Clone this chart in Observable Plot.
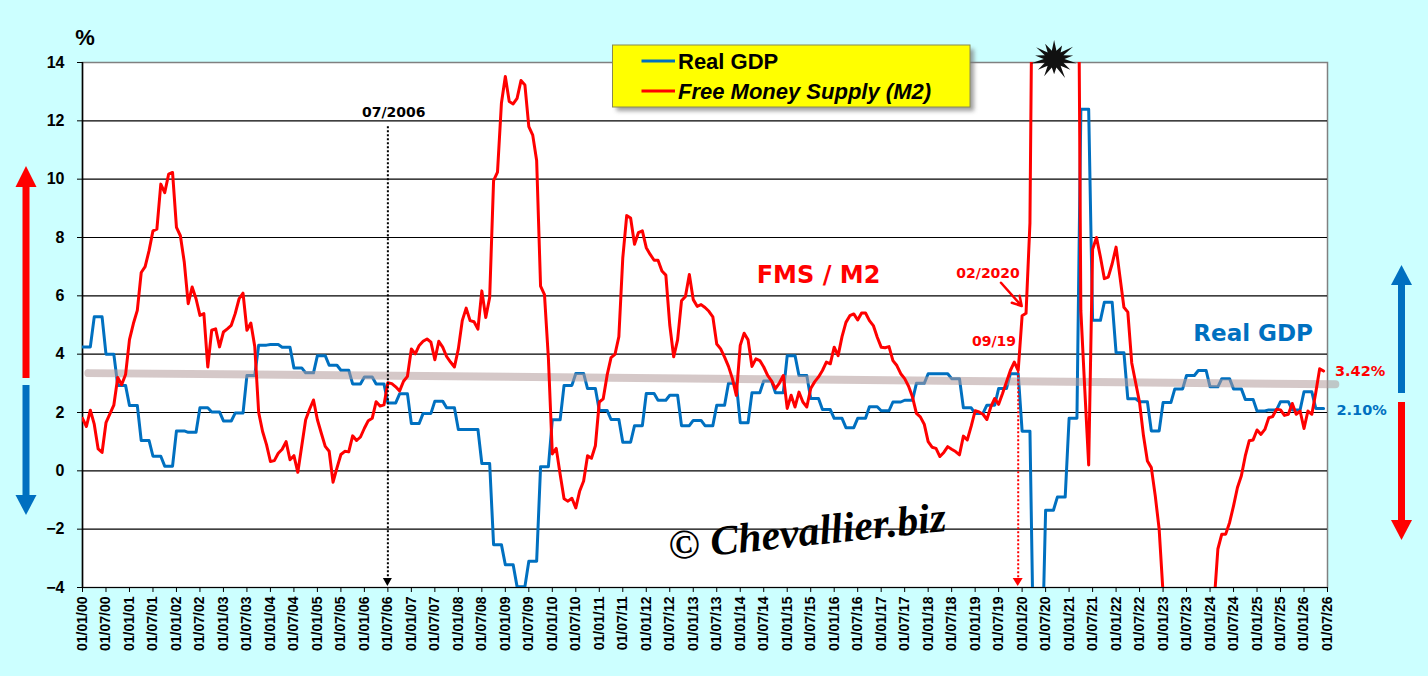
<!DOCTYPE html>
<html><head><meta charset="utf-8">
<script src="https://cdn.jsdelivr.net/npm/d3@7"></script>
<script src="https://cdn.jsdelivr.net/npm/@observablehq/plot@0.6"></script>
<style>
html,body{margin:0;padding:0;background:#ccffff;overflow:hidden;}
svg{display:block}
</style></head><body>
<div id="chart"></div>
<script>
// Free Money Supply (M2), monthly y/y %, Jan 2000 .. Jun 2026 (one row per year)
const fmsValues = [
  1.8, 1.52, 2.08, 1.6, 0.75, 0.63, 1.65, 1.95, 2.25, 3.2, 2.95, 3.3,
  4.5, 5.05, 5.5, 6.8, 7.0, 7.55, 8.23, 8.29, 9.83, 9.54, 10.17, 10.23,
  8.35, 8.06, 7.15, 5.73, 6.3, 5.9, 5.33, 5.39, 3.56, 4.82, 4.87, 4.25,
  4.76, 4.87, 4.99, 5.39, 5.9, 6.09, 4.82, 5.07, 4.26, 2.0, 1.35, 0.9,
  0.32, 0.35, 0.6, 0.74, 1.0, 0.38, 0.52, -0.05, 0.85, 1.75, 2.11, 2.43,
  1.75, 1.29, 0.84, 0.67, -0.39, 0.1, 0.56, 0.67, 0.65, 1.2, 1.04, 1.16,
  1.46, 1.72, 1.8, 2.37, 2.22, 2.26, 3.02, 2.99, 2.88, 2.74, 3.07, 3.24,
  4.18, 4.01, 4.3, 4.44, 4.52, 4.41, 3.81, 4.44, 4.24, 3.92, 3.73, 3.56,
  4.18, 5.15, 5.58, 5.15, 5.11, 4.86, 6.17, 5.26, 5.94, 9.95, 10.24, 12.6,
  13.52, 12.66, 12.58, 12.77, 13.38, 13.23, 11.8, 11.51, 10.64, 6.33, 6.04, 3.86,
  0.58, 0.77, -0.12, -0.96, -1.04, -0.94, -1.27, -0.69, -0.35, 0.52, 0.43, 0.86,
  2.36, 2.47, 3.28, 3.88, 3.99, 4.6, 7.3, 8.75, 8.67, 7.77, 8.17, 8.23,
  7.65, 7.42, 7.22, 7.22, 6.85, 6.71, 5.0, 3.91, 4.49, 5.83, 5.98, 6.73,
  5.87, 5.64, 5.7, 5.6, 5.47, 5.28, 4.35, 4.18, 3.9, 3.58, 3.16, 2.59,
  4.3, 4.72, 4.49, 3.58, 3.84, 3.78, 3.56, 3.27, 3.08, 2.82, 3.01, 3.27,
  2.14, 2.59, 2.19, 2.7, 2.36, 2.19, 2.82, 3.05, 3.22, 3.44, 3.73, 3.67,
  4.24, 3.95, 4.6, 5.09, 5.32, 5.38, 5.17, 5.41, 5.41, 5.15, 4.98, 4.58,
  4.24, 4.22, 4.26, 3.78, 3.61, 3.33, 3.16, 2.9, 2.53, 1.97, 1.85, 1.6,
  1.0, 0.81, 0.77, 0.49, 0.63, 0.83, 0.74, 0.66, 0.55, 1.19, 1.06, 1.53,
  2.06, 2.02, 1.94, 1.76, 2.19, 2.48, 2.28, 2.65, 3.05, 3.44, 3.73, 3.44,
  5.32, 5.4, 8.5, 24, 25, 25.5, 24.5, 24, 24.5, 25, 25.5, 26,
  26.5, 27, 26, 5.5, 2.8, 0.2, 7.6, 8.0, 7.33, 6.59, 6.64, 7.1,
  7.67, 6.64, 5.61, 5.44, 3.7, 3.02, 2.34, 1.2, 0.34, 0.11, -0.85, -2.0,
  -4.2, -5.5, -6.5, -7.5, -8.2, -8.8, -9.2, -9.3, -9.0, -8.5, -7.5, -6.5,
  -5.5, -4.6, -2.68, -2.17, -2.17, -1.77, -1.2, -0.57, -0.17, 0.51, 1.03, 1.06,
  1.4, 1.25, 1.42, 1.82, 1.86, 2.11, 2.09, 1.9, 1.94, 2.31, 1.94, 2.05,
  1.45, 2.05, 1.94, 2.68, 3.5, 3.42
];
// Real GDP, quarterly y/y %, Q1 2000 .. Q2 2026 (one row per year)
const gdpQuarterly = [
  4.25, 5.28, 4.0, 2.93,
  2.24, 1.04, 0.5, 0.16,
  1.37, 1.32, 2.16, 2.02,
  1.71, 1.98, 3.27, 4.31,
  4.33, 4.24, 3.53, 3.36,
  3.95, 3.62, 3.45, 2.98,
  3.22, 2.98, 2.33, 2.64,
  1.62, 1.97, 2.39, 2.16,
  1.42, 1.42, 0.25, -2.53,
  -3.22, -3.97, -3.1, 0.14,
  1.75, 2.93, 3.34, 2.82,
  2.07, 1.76, 0.98, 1.55,
  2.65, 2.42, 2.59, 1.55,
  1.73, 1.55, 2.25, 3.0,
  1.65, 2.68, 3.08, 2.68,
  3.95, 3.27, 2.48, 2.1,
  1.8, 1.48, 1.8, 2.2,
  2.06, 2.36, 2.42, 3.0,
  3.33, 3.33, 3.16, 2.16,
  1.97, 2.25, 2.82, 3.33,
  1.36, -7.0, -1.35, -0.9,
  1.8, 12.4, 5.16, 5.78,
  4.05, 2.47, 2.37, 1.37,
  2.34, 2.81, 3.27, 3.44,
  2.88, 3.16, 2.81, 2.45,
  2.05, 2.09, 2.37, 2.09,
  2.71, 2.14
];
const trendMonths = [1.5, 320];
const trendValues = [3.35, 2.97];
const yTicks = [-4, -2, 0, 2, 4, 6, 8, 10, 12, 14];
const xTickMonths = d3.range(0, 319, 6);
const xTickLabels = ["01/01/00","01/07/00","01/01/01","01/07/01","01/01/02","01/07/02","01/01/03","01/07/03","01/01/04","01/07/04","01/01/05","01/07/05","01/01/06","01/07/06","01/01/07","01/07/07","01/01/08","01/07/08","01/01/09","01/07/09","01/01/10","01/07/10","01/01/11","01/07/11","01/01/12","01/07/12","01/01/13","01/07/13","01/01/14","01/07/14","01/01/15","01/07/15","01/01/16","01/07/16","01/01/17","01/07/17","01/01/18","01/07/18","01/01/19","01/07/19","01/01/20","01/07/20","01/01/21","01/07/21","01/01/22","01/07/22","01/01/23","01/07/23","01/01/24","01/07/24","01/01/25","01/07/25","01/01/26","01/07/26"];
const lastFms = "3.42%";
const lastGdp = "2.10%";

const RED = "#ff0000", BLUE = "#0070c0";
const fms = fmsValues.map((v, i) => ({m: i, v}));
const gdp = gdpQuarterly.flatMap((v, q) => [0, 1, 2].map(k => ({m: 3 * q + k, v})));
const trend = trendMonths.map((m, i) => ({m, v: trendValues[i]}));

const ANNO = {fontFamily: "DejaVu Sans", fontWeight: "bold"};

const plot = Plot.plot({
  width: 1428, height: 676,
  marginLeft: 82, marginRight: 101, marginTop: 62, marginBottom: 89,
  style: {background: "#ccffff", color: "black"},
  x: {domain: [0, 318]},
  y: {domain: [-4, 14]},
  marks: [
    Plot.frame({fill: "white", stroke: "#808080", strokeWidth: 1.5}),
    Plot.ruleY(yTicks.filter(d => d < 14), {stroke: "black", strokeWidth: 1.2}),
    Plot.ruleX([0], {stroke: "black", strokeWidth: 1.5}),
    Plot.axisY({ticks: yTicks, tickSize: 5, tickPadding: 13, label: null,
      fontSize: 16, fontWeight: "bold", fontFamily: "Liberation Sans"}),
    Plot.axisX({ticks: xTickMonths, tickFormat: d => xTickLabels[xTickMonths.indexOf(d)],
      tickRotate: -90, tickSize: 5, tickPadding: 4, label: null,
      fontSize: 14, fontWeight: "bold", fontFamily: "Liberation Sans"}),
    Plot.line(gdp, {x: "m", y: "v", stroke: BLUE, strokeWidth: 3, clip: true}),
    Plot.line(trend, {x: "m", y: "v", stroke: "#b39a9a", strokeOpacity: 0.55, strokeWidth: 8}),
    Plot.line(fms, {x: "m", y: "v", stroke: RED, strokeWidth: 3, clip: true}),
    Plot.ruleX([78], {y1: 11.8, y2: -3.75, stroke: "black", strokeWidth: 2, strokeDasharray: "2,2"}),
    Plot.ruleX([239], {y1: 3.4, y2: -3.75, stroke: RED, strokeWidth: 2, strokeDasharray: "2,2"}),
    Plot.arrow([{x1: 234.6, y1: 6.45, x2: 239.9, y2: 5.65}], {x1: "x1", y1: "y1", x2: "x2", y2: "y2",
      stroke: RED, strokeWidth: 2.5, headLength: 9}),
    Plot.text(["07/2006"], {text: d => d, x: 79.5, y: 12.3, fill: "black", fontSize: 14, ...ANNO}),
    Plot.text(["02/2020"], {text: d => d, x: 231.3, y: 6.78, fill: RED, fontSize: 14, ...ANNO}),
    Plot.text(["09/19"], {text: d => d, x: 232.8, y: 4.45, fill: RED, fontSize: 14, ...ANNO}),
    Plot.text(["FMS / M2"], {text: d => d, x: 188, y: 6.7, fill: RED, fontSize: 24, ...ANNO}),
    Plot.text(["Real GDP"], {text: d => d, x: 299, y: 4.72, fill: BLUE, fontSize: 23, ...ANNO}),
    Plot.text([lastFms], {text: d => d, x: 319.9, y: 3.4, fill: RED, fontSize: 14.5, textAnchor: "start", ...ANNO}),
    Plot.text([lastGdp], {text: d => d, x: 320.3, y: 2.08, fill: BLUE, fontSize: 14.5, textAnchor: "start", ...ANNO})
  ]
});
document.getElementById("chart").appendChild(plot);

const svg = d3.select(plot);
const sx = plot.scale("x"), sy = plot.scale("y");
const X = v => sx.apply(v), Y = v => sy.apply(v);

// arrowheads at bottom of dotted lines
function headDown(m, color, w) {
  const x = X(m), y = Y(-4);
  svg.append("path").attr("d", `M${x - w},${y - 9}L${x + w},${y - 9}L${x},${y - 1}Z`).attr("fill", color);
}
headDown(78, "black", 4.5);
headDown(239, RED, 5);

// explosion star at the clipped FMS peak
{
  const cx = X(248.3), cy = Y(14.1);
  const outer = [1, 0.8, 1.05, 0.85, 1, 0.9, 1.1, 0.8, 1, 0.9, 1.05, 0.85, 1, 0.9];
  const n = outer.length;
  const pts = [];
  for (let i = 0; i < 2 * n; i++) {
    const a = Math.PI * i / n - Math.PI / 2;
    const r = i % 2 === 0 ? outer[i / 2] : 0.45;
    pts.push([cx + Math.cos(a) * r * 23, cy + Math.sin(a) * r * 19]);
  }
  svg.append("path").attr("d", "M" + pts.map(p => p.join(",")).join("L") + "Z").attr("fill", "#111");
}

// side arrows
function arrow(x, yShaftStart, yBase, yTip, color) {
  const sw = 3.5, hw = 10.5;
  svg.append("rect").attr("x", x - sw).attr("width", 2 * sw)
    .attr("y", Math.min(yShaftStart, yBase)).attr("height", Math.abs(yShaftStart - yBase) + 1)
    .attr("fill", color);
  svg.append("path").attr("d", `M${x - hw},${yBase}L${x + hw},${yBase}L${x},${yTip}Z`).attr("fill", color);
}
arrow(26, 377, 187, 166, RED);
arrow(26, 385, 495, 515, BLUE);
arrow(1401.5, 392, 285, 265, BLUE);
arrow(1401.5, 402, 520, 540, RED);

// percent unit
svg.append("text").attr("x", 85).attr("y", 45).attr("text-anchor", "middle")
  .attr("font-family", "Liberation Sans").attr("font-weight", "bold").attr("font-size", 22).text("%");

// legend
{
  const lx = 612.5, ly = 45, lw = 357.5, lh = 62;
  const defs = svg.append("defs");
  defs.append("filter").attr("id", "shadow").attr("x", "-10%").attr("y", "-10%").attr("width", "130%").attr("height", "150%")
    .append("feGaussianBlur").attr("stdDeviation", 2);
  svg.append("rect").attr("x", lx + 4).attr("y", ly + 4).attr("width", lw).attr("height", lh)
    .attr("fill", "#777").attr("opacity", 0.7).attr("filter", "url(#shadow)");
  svg.append("rect").attr("x", lx).attr("y", ly).attr("width", lw).attr("height", lh)
    .attr("fill", "#ffff00").attr("stroke", "#8a8a50").attr("stroke-width", 1);
  const items = [{label: "Real GDP", color: BLUE, y: 61, style: "normal"},
                 {label: "Free Money Supply (M2)", color: RED, y: 91, style: "italic"}];
  for (const it of items) {
    svg.append("line").attr("x1", 641.5).attr("x2", 675).attr("y1", it.y).attr("y2", it.y)
      .attr("stroke", it.color).attr("stroke-width", 3);
    svg.append("text").attr("x", 678).attr("y", it.y + 7.5).attr("text-anchor", "start")
      .attr("font-family", "Liberation Sans").attr("font-weight", "bold").attr("font-style", it.style)
      .attr("font-size", 22).attr("fill", "black").text(it.label);
  }
}

// watermark
svg.append("text").attr("transform", "translate(670,560) rotate(-6)").attr("text-anchor", "start")
  .attr("font-family", "Liberation Serif").attr("font-style", "italic").attr("font-weight", "bold")
  .attr("font-size", 42).attr("fill", "black").text("\u00A9 Chevallier.biz");
</script>
</body></html>
